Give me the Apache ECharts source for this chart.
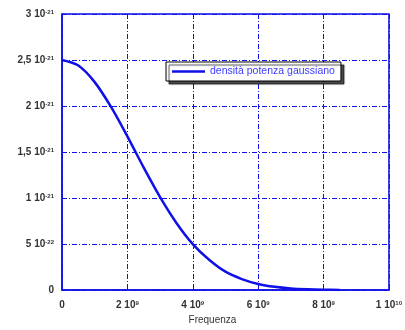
<!DOCTYPE html>
<html><head><meta charset="utf-8">
<script src="https://cdn.jsdelivr.net/npm/echarts@6/dist/echarts.min.js"></script>
<style>html,body{margin:0;padding:0;background:#fff}#c{width:405px;height:330px}</style>
</head><body><div id="c"></div>
<script>
// frequency in units of 1e9 Hz
var freq = [0, 0.5, 1, 1.5, 2, 2.5, 3, 3.5, 4, 4.5, 5, 5.5, 6, 6.5, 7, 7.5, 8, 8.5];
// power density in units of 1e-21
var density = [2.5, 2.44, 2.26, 1.99, 1.67, 1.33, 1.01, 0.73, 0.50, 0.33, 0.20, 0.12, 0.067, 0.036, 0.018, 0.009, 0.004, 0.002];
var yTickLabels = {'0':'0', '0.5':'5 10{s|-22}', '1':'1 10{s|-21}', '1.5':'1,5 10{s|-21}', '2':'2 10{s|-21}', '2.5':'2,5 10{s|-21}', '3':'3 10{s|-21}'};
var xTickLabels = {'0':'0', '2':'2 10{s|9}', '4':'4 10{s|9}', '6':'6 10{s|9}', '8':'8 10{s|9}', '10':'1 10{s|10}'};
var seriesName = 'densità potenza gaussiano';

var blue = '#1010e8';
var rich = {s:{fontSize:6, verticalAlign:'top', lineHeight:10, fontFamily:'Liberation Sans', color:'#333'}};
var chart = echarts.init(document.getElementById('c'));
var gridLine = {show:true, lineStyle:{color:blue, width:1, type:[5,2,1,2]}};
chart.setOption({
  animation:false,
  grid:{left:62, right:14, top:14, bottom:37, show:true, borderColor:blue, borderWidth:1.5},
  legend:{
    data:[{name:seriesName, icon:'rect'}], left:166, top:62, itemWidth:33, itemHeight:2.5, itemGap:4,
    backgroundColor:'#fff', borderColor:'#000', borderWidth:1, padding:[4,6,4,6],
    shadowColor:'rgba(0,0,0,0.7)', shadowOffsetX:3, shadowOffsetY:3, shadowBlur:1,
    textStyle:{color:'#3a3aff', fontSize:10.5, fontFamily:'Liberation Sans'}
  },
  xAxis:{
    type:'value', min:0, max:10, interval:2,
    name:'Frequenza', nameLocation:'middle', nameGap:24,
    nameTextStyle:{fontSize:10, color:'#333', fontFamily:'Liberation Sans', padding:[0,26,0,0]},
    axisLine:{show:true, lineStyle:{color:blue, width:1.5}},
    axisTick:{show:true, inside:true, length:5, lineStyle:{color:blue}},
    splitLine:gridLine,
    axisLabel:{margin:10, fontSize:10, fontWeight:'bold', color:'#333', fontFamily:'Liberation Sans', rich:rich,
      formatter:function(v){return xTickLabels[String(v)];}}
  },
  yAxis:{
    type:'value', min:0, max:3, interval:0.5,
    axisLine:{show:true, lineStyle:{color:blue, width:1.5}},
    axisTick:{show:true, inside:true, length:5, lineStyle:{color:blue}},
    splitLine:gridLine,
    axisLabel:{margin:8, fontSize:10, fontWeight:'bold', color:'#333', fontFamily:'Liberation Sans', rich:rich,
      formatter:function(v){return yTickLabels[String(v)];}}
  },
  series:[{
    name:seriesName, type:'line', smooth:0.3, showSymbol:false,
    lineStyle:{color:blue, width:2.5}, itemStyle:{color:blue},
    data:freq.map(function(f,i){return [f, density[i]];})
  }]
});
</script></body></html>
